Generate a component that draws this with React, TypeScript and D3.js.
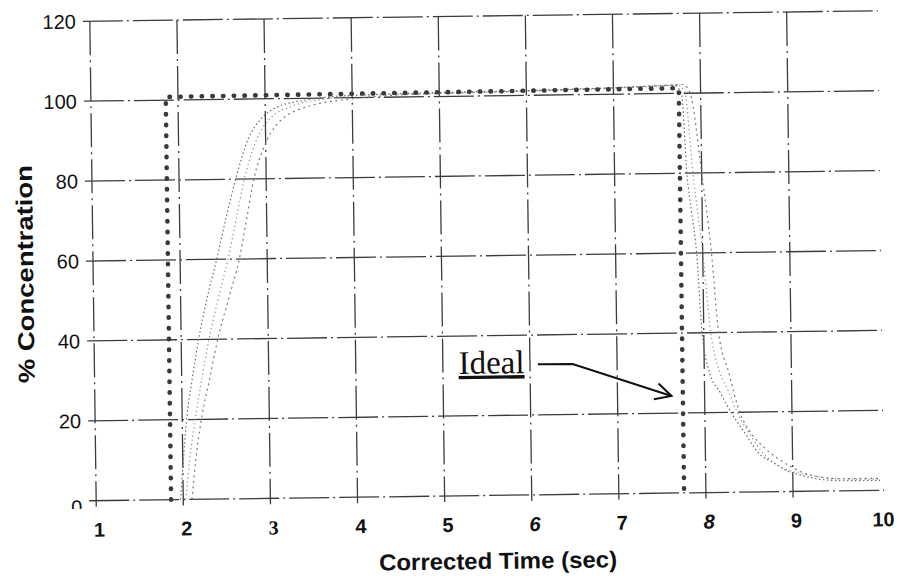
import * as d3 from "d3";
import { useEffect } from "react";

const W = 897;
const H = 581;
// the scanned original is tilted a little
const TILT = -0.76;
const CX = 485;
const CY = 258;

const xTicks = [1, 2, 3, 4, 5, 6, 7, 8, 9, 10];
const xGrid = [1, 2, 3, 4, 5, 6, 7, 8, 9];
const yTicks = [0, 20, 40, 60, 80, 100, 120];

const idealTime = [1.86, 1.86, 7.75, 7.75];
const idealConc = [0, 100.8, 101.3, 0];

const run1Time = [1.97, 2.0, 2.05, 2.12, 2.2, 2.3, 2.42, 2.53, 2.65, 2.8, 2.95, 3.15, 3.45, 3.9, 5.0, 6.0, 7.0, 7.7, 7.78, 7.83, 7.88, 7.93, 7.98, 8.06, 8.18, 8.3, 8.45, 8.6, 8.8, 8.95, 9.1, 9.3, 9.6, 10.0];
const run1Conc = [0, 8, 20, 30, 40, 50, 60, 70, 80, 90, 95, 98, 99.5, 100.5, 101, 101.2, 101.6, 102, 100, 80, 70, 60, 40, 30, 25, 20, 15, 10, 7, 5, 4, 3, 2.5, 2.5];

const run2Time = [2.03, 2.08, 2.15, 2.23, 2.32, 2.43, 2.55, 2.65, 2.75, 2.9, 3.05, 3.3, 3.7, 4.2, 5.0, 6.0, 7.0, 7.75, 7.82, 7.9, 8.0, 8.08, 8.18, 8.28, 8.37, 8.5, 8.65, 8.8, 9.0, 9.2, 9.5, 10.0];
const run2Conc = [0, 10, 20, 30, 40, 50, 60, 70, 80, 90, 95, 98, 99.8, 100.6, 100.8, 101.1, 101.5, 102, 100, 80, 60, 40, 30, 25, 20, 15, 10, 7, 5, 4, 3, 2.8];

const run3Time = [2.1, 2.15, 2.22, 2.32, 2.42, 2.55, 2.68, 2.77, 2.86, 2.98, 3.15, 3.5, 4.0, 4.5, 5.5, 6.5, 7.3, 7.8, 7.88, 8.0, 8.1, 8.17, 8.28, 8.4, 8.52, 8.68, 8.85, 9.0, 9.2, 9.6, 10.0];
const run3Conc = [0, 10, 20, 30, 40, 50, 60, 70, 80, 88, 94, 98, 99.7, 100.5, 100.9, 101.3, 101.8, 102.2, 100, 80, 60, 40, 30, 20, 15, 11, 8, 6, 4, 3, 3];

const noteTime = 5.18;
const noteConc = 30.5;
const arrowTime = [6.09, 6.49, 7.62];
const arrowConc = [32.7, 32.6, 24.3];

const runs = [
    { t: run1Time, c: run1Conc, color: "#6d6d6d", dash: "1.5 2.5" },
    { t: run2Time, c: run2Conc, color: "#8a8a8a", dash: "1.2 3" },
    { t: run3Time, c: run3Conc, color: "#7a7a7a", dash: "2 3.5" },
];

const SANS = "'Liberation Sans', Arial, Helvetica, sans-serif";
const NARROW = "'Liberation Sans Narrow', 'Liberation Sans', Arial, sans-serif";

export default function App() {
    useEffect(() => {
        document.body.style.margin = "0";
        document.body.style.background = "#fff";
    }, []);

    const x = d3.scaleLinear().domain([1, 10]).range([93, 877]);
    const y = d3.scaleLinear().domain([0, 120]).range([495.5, 16]);

    const line = d3
        .line<[number, number]>()
        .x((d) => x(d[0]))
        .y((d) => y(d[1]));
    const smooth = d3
        .line<[number, number]>()
        .x((d) => x(d[0]))
        .y((d) => y(d[1]))
        .curve(d3.curveMonotoneX);

    const idealPts = idealTime.map((t, i) => [t, idealConc[i]] as [number, number]);
    const arrowPts = arrowTime.map((t, i) => [t, arrowConc[i]] as [number, number]);

    // open arrow head at the last point
    const tip = arrowPts[arrowPts.length - 1];
    const prev = arrowPts[arrowPts.length - 2];
    const ang = Math.atan2(y(tip[1]) - y(prev[1]), x(tip[0]) - x(prev[0]));
    const headLen = 18;
    const barb = (da: number) => [x(tip[0]) - headLen * Math.cos(ang + da), y(tip[1]) - headLen * Math.sin(ang + da)];
    const b1 = barb(0.45);
    const b2 = barb(-0.5);

    const gridDash = "40 4 2 4";

    return (
        <svg width={W} height={H} style={{ display: "block", background: "#fff" }}>
            <defs>
                {/* the bottom half of the "0" label is lost in the scan */}
                <clipPath id="zeroClip">
                    <rect x={40} y={y(0) - 20} width={45} height={28} />
                </clipPath>
            </defs>
            <g transform={`rotate(${TILT} ${CX} ${CY})`}>
                {/* horizontal grid */}
                {yTicks.map((v) => (
                    <line
                        key={`h${v}`}
                        x1={x(1) - 7}
                        x2={x(10) + 4}
                        y1={y(v)}
                        y2={y(v)}
                        stroke="#3c3c3c"
                        strokeWidth={1.3}
                        strokeDasharray={gridDash}
                    />
                ))}
                {/* vertical grid */}
                {xGrid.map((v) => (
                    <line
                        key={`v${v}`}
                        x1={x(v)}
                        x2={x(v)}
                        y1={y(120)}
                        y2={y(0) + 6}
                        stroke="#3c3c3c"
                        strokeWidth={1.3}
                        strokeDasharray="34 5 2 5"
                    />
                ))}

                {/* measured runs */}
                {runs.map((r, i) => (
                    <path
                        key={`r${i}`}
                        d={smooth(r.t.map((t, j) => [t, r.c[j]] as [number, number])) ?? ""}
                        fill="none"
                        stroke={r.color}
                        strokeWidth={1.2}
                        strokeDasharray={r.dash}
                    />
                ))}

                {/* ideal step */}
                <path
                    d={line(idealPts) ?? ""}
                    fill="none"
                    stroke="#3a3a3a"
                    strokeWidth={4.6}
                    strokeLinecap="round"
                    strokeDasharray="0.4 10.3"
                />

                {/* y tick labels */}
                {yTicks.map((v) => (
                    <text
                        key={`yl${v}`}
                        x={79}
                        y={v === 0 ? y(v) + 6 : y(v)}
                        dy="0.36em"
                        textAnchor="end"
                        fontFamily={SANS}
                        fontSize={20}
                        fill="#111"
                        clipPath={v === 0 ? "url(#zeroClip)" : undefined}
                    >
                        {v}
                    </text>
                ))}

                {/* x tick labels */}
                {xTicks.map((v) => (
                    <text
                        key={`xl${v}`}
                        x={x(v) + 3}
                        y={y(0) + 36}
                        textAnchor="middle"
                        fontFamily={v === 3 ? "'Liberation Serif', 'Times New Roman', serif" : SANS}
                        fontStyle={v === 6 || v === 8 ? "italic" : "normal"}
                        fontWeight="bold"
                        fontSize={20}
                        fill="#111"
                    >
                        {v}
                    </text>
                ))}

                {/* axis titles */}
                <text
                    transform="translate(25, 268) rotate(-90)"
                    textAnchor="middle"
                    dy="0.35em"
                    fontFamily={NARROW}
                    fontWeight="bold"
                    fontSize={23}
                    textLength={218}
                    lengthAdjust="spacingAndGlyphs"
                    fill="#111"
                >
                    % Concentration
                </text>
                <text
                    x={494}
                    y={569}
                    textAnchor="middle"
                    fontFamily={NARROW}
                    fontWeight="bold"
                    fontSize={23}
                    textLength={238}
                    lengthAdjust="spacingAndGlyphs"
                    fill="#111"
                >
                    Corrected Time (sec)
                </text>

                {/* annotation */}
                <text
                    x={x(noteTime)}
                    y={y(noteConc)}
                    fontFamily="'Liberation Serif', 'Times New Roman', serif"
                    fontSize={33}
                    textDecoration="underline"
                    fill="#111"
                >
                    Ideal
                </text>
                <path d={line(arrowPts) ?? ""} fill="none" stroke="#111" strokeWidth={2} />
                <path
                    d={`M${b1[0]},${b1[1]}L${x(tip[0])},${y(tip[1])}L${b2[0]},${b2[1]}`}
                    fill="none"
                    stroke="#111"
                    strokeWidth={2}
                />
            </g>
        </svg>
    );
}
